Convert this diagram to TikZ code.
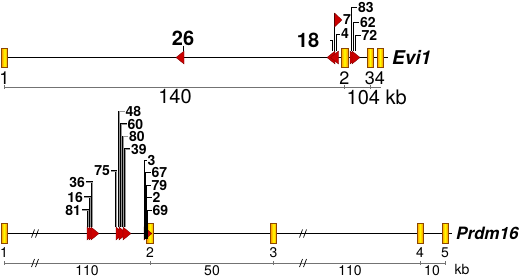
\documentclass[tikz,border=0pt]{standalone}
\usepackage{fontspec}
\setmainfont{TeX Gyre Heros}
\usetikzlibrary{positioning,backgrounds}

\begin{document}
\begin{tikzpicture}[x=1pt, y=-1pt,
  exon/.style={draw=orange!55!black, line width=0.6pt, inner sep=0pt,
               left color=orange!85!yellow, right color=orange!85!yellow,
               middle color=yellow, minimum width=6pt, minimum height=19pt},
  gene/.style={line width=1.2pt, black},
  scaleln/.style={line width=0.8pt, black!55},
  evlab/.style={inner sep=0pt, font=\fontsize{18}{18}\selectfont},
  prlab/.style={inner sep=0pt, font=\fontsize{14}{14}\selectfont},
  bignum/.style={inner sep=0pt, font=\bfseries\fontsize{20}{20}\selectfont},
  num/.style={inner xsep=0.8pt, inner ysep=0pt, font=\bfseries\fontsize{14}{14}\selectfont},
  gname/.style={anchor=west, inner xsep=4pt, font=\bfseries\itshape\fontsize{19}{19}\selectfont},
  stem/.style={line width=0.6pt},
  gstem/.style={line width=0.4pt, double=black!40, double distance=1pt},
  kstem/.style={line width=0.9pt},
  insfill/.style={fill=red!80!black, draw=red!45!black, line width=0.3pt},
  insR/.pic={\draw[insfill] (0,6.5) -- (8,0) -- (0,-6.5) -- cycle;},
  insL/.pic={\draw[insfill] (0,6.5) -- (-8,0) -- (0,-6.5) -- cycle;},
  brk/.pic={\draw[line width=0.7pt] (-3.5,4) -- (-0.5,-4) (0.5,4) -- (3.5,-4);},
  sctick/.pic={\draw[scaleln] (0,-2) -- (0,2);}
]
  \useasboundingbox (0,0) rectangle (520,277);

  % Evi1
  \node[exon] (ev1) at (4.5,57.5) {};
  \node[exon, minimum width=7pt] (ev2) at (344.5,57.5) {};
  \node[exon] (ev3) at (370,57.5) {};
  \node[exon] (ev4) at (380,57.5) {};
  \node[gname] (evi) at (388,57.5) {Evi1};
  \begin{scope}[on background layer]
    \draw[gene] (ev1.east) -- (evi.west);
  \end{scope}

  \node[evlab, below=4.5pt of ev1] (en1) {1};
  \node[evlab, below=4.5pt of ev2] (en2) {2};
  \node[evlab, below=4.5pt of ev3] (en3) {3};
  \node[evlab, below=4.5pt of ev4] (en4) {4};

  \coordinate (s1) at (4,87);
  \coordinate (s2) at (344.5,87);
  \coordinate (s3) at (370,87);
  \coordinate (s4) at (381,87);
  \draw[scaleln] (s1) -- (s4);
  \foreach \t in {s1,s2,s3} \pic at (\t) {sctick};
  \node[bignum, font=\fontsize{20}{20}\selectfont] (k140) at (175,97) {140};
  \node[bignum, font=\fontsize{20}{20}\selectfont, anchor=west] (k104) at (346.5,97) {104 kb};

  \node[bignum] (l26) at (183,38) {26};
  \coordinate (i26) at (183,51);
  \draw[stem] (l26) -- (i26);
  \pic at (184,57.5) {insL};

  \node[bignum] (l18) at (308,40) {18};
  \coordinate (t18) at (330,40);
  \coordinate (i18) at (332.5,51);
  \draw[stem] (t18) -| (i18);

  \node[num, anchor=west] (l7) at (342,20) {7};
  \coordinate (f7) at (334.5,13);
  \coordinate (i7) at (334.5,51);
  \draw[stem] (f7) -- (i7);
  \draw[insfill] (f7) -- (l7.west) -- (334.5,27) -- cycle;

  \node[num, anchor=west] (l4) at (340,34) {4};
  \coordinate (i4) at (336.5,51);
  \draw[stem] (l4.west) -| (i4);

  \pic at (335,57.5) {insL};
  \pic at (338.5,57.5) {insL};

  \foreach \n/\x/\lx/\y in {83/351/357/7.5, 62/353/359/22, 72/355/360.5/35} {
    \node[num, anchor=west] (l\n) at (\lx,\y) {\n};
    \coordinate (i\n) at (\x,51);
    \draw[stem] (l\n.west) -| (i\n);
  }
  \pic at (350,57.5) {insR};
  \pic at (352,57.5) {insR};

  % Prdm16
  \node[exon, minimum height=20pt] (pr1) at (4,233.5) {};
  \node[exon, minimum height=20pt, minimum width=7pt] (pr2) at (150,233.5) {};
  \node[exon, minimum height=20pt] (pr3) at (273.5,233.5) {};
  \node[exon, minimum height=20pt] (pr4) at (420,233.5) {};
  \node[exon, minimum height=20pt] (pr5) at (445,233.5) {};
  \node[gname, font=\bfseries\itshape\fontsize{17}{17}\selectfont] (prdm) at (452,233.5) {Prdm16};
  \begin{scope}[on background layer]
    \draw[gene] (pr1.east) -- (prdm.west);
  \end{scope}
  \pic at (35,233.5) {brk};
  \pic at (303,233.5) {brk};

  \node[prlab, below=4pt of pr1] (pn1) {1};
  \node[prlab, below=4pt of pr2] (pn2) {2};
  \node[prlab, below=4pt of pr3] (pn3) {3};
  \node[prlab, below=4pt of pr4] (pn4) {4};
  \node[prlab, below=4pt of pr5] (pn5) {5};

  \coordinate (q1) at (4,263);
  \coordinate (q2) at (150,263);
  \coordinate (q3) at (273.5,263);
  \coordinate (q4) at (420,263);
  \coordinate (q5) at (445,263);
  \draw[scaleln] (q1) -- (q5);
  \foreach \t in {q1,q2,q3,q4,q5} \pic at (\t) {sctick};
  \pic at (35,263) {brk};
  \pic at (303,263) {brk};
  \node[prlab] (m1) at (87,270.5) {110};
  \node[prlab] (m2) at (212,270.5) {50};
  \node[prlab] (m3) at (350,270.5) {110};
  \node[prlab] (m4) at (432,270.5) {10};
  \node[prlab] (m5) at (462,269.5) {kb};

  \foreach \n/\x/\y in {81/88/210, 16/90/197, 36/92/182} {
    \node[num, anchor=east] (p\n) at (\x-6,\y) {\n};
    \coordinate (j\n) at (\x,227);
    \draw[gstem] (p\n.east) -| (j\n);
  }
  \pic at (87,233.5) {insR};
  \pic at (89,233.5) {insR};
  \pic at (91,233.5) {insR};

  \node[num, anchor=east] (p75) at (111,171) {75};
  \coordinate (j75) at (116,227);
  \draw[gstem] (p75.east) -| (j75);
  \foreach \n/\x/\lx/\y in {48/119/124.5/111.5, 60/121/126.5/124, 80/123/128/136.5, 39/125/130/149} {
    \node[num, anchor=west] (p\n) at (\lx,\y) {\n};
    \coordinate (j\n) at (\x,227);
    \draw[gstem] (p\n.west) -| (j\n);
  }
  \pic at (116,233.5) {insR};
  \pic at (119,233.5) {insR};
  \pic at (123,233.5) {insR};

  \pic at (144,233.5) {insR};
  \foreach \n/\x/\lx/\y in {3/144.5/146.5/160, 67/145.3/150.5/172, 79/146.1/150.5/185, 2/146.9/151.5/197.5, 69/147.7/151.5/210} {
    \node[num, anchor=west] (c\n) at (\lx,\y) {\n};
    \coordinate (k\n) at (\x,239);
    \draw[kstem] (c\n.west) -| (k\n);
  }
\end{tikzpicture}
\end{document}
